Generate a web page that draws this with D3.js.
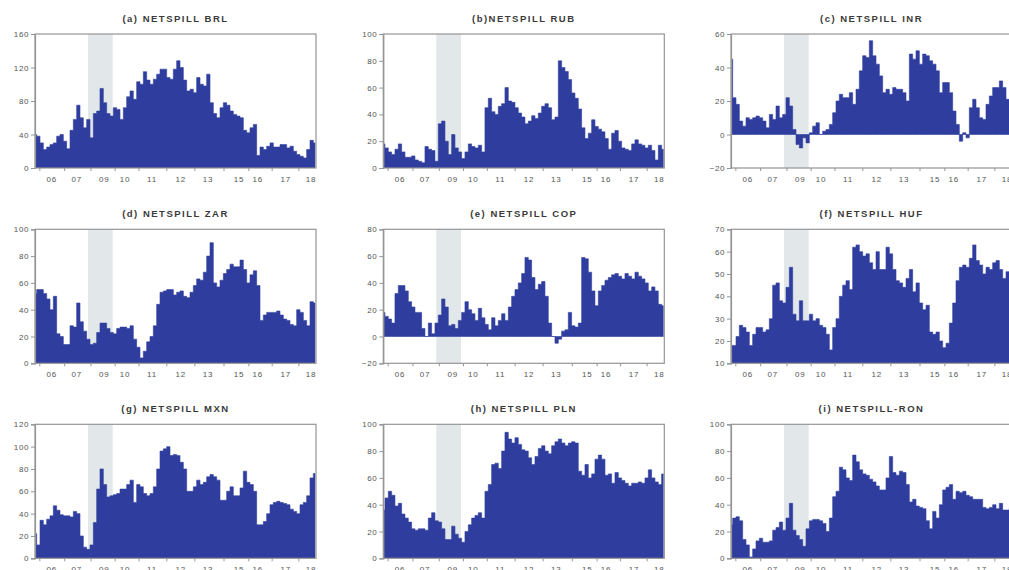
<!DOCTYPE html>
<html><head><meta charset="utf-8">
<script src="https://cdn.jsdelivr.net/npm/d3@7"></script>
<style>
body{margin:0;background:#fff;}
svg{display:block;}
text{font-family:"Liberation Sans",Arial,sans-serif;}
</style></head>
<body>
<svg id="chart" width="1009" height="570"></svg>
<script>
// x-axis tick labels (year, 2-digit) and their positions in sample index units
const yearLabels = ["06","07","09","10","11","12","13","15","16","17","18"];
const yearPos = [5.0, 12.5, 20.8, 27.0, 35.1, 43.7, 51.9, 61.2, 66.8, 75.2, 82.8];
const crisisSpan = [15.9, 23.3];

const titles = ["(a) NETSPILL BRL","(b)NETSPILL RUB","(c) NETSPILL INR",
                "(d) NETSPILL ZAR","(e) NETSPILL COP","(f) NETSPILL HUF",
                "(g) NETSPILL MXN","(h) NETSPILL PLN","(i) NETSPILL-RON"];
const yDomains = [[0,160],[0,100],[-20,60],[0,100],[-20,80],[10,70],[0,120],[0,100],[0,100]];
const yTicks = [[0,40,80,120,160],[0,20,40,60,80,100],[-20,0,20,40,60],[0,20,40,60,80,100],
                [-20,0,20,40,60,80],[10,20,30,40,50,60,70],[0,20,40,60,80,100,120],
                [0,20,40,60,80,100],[0,20,40,60,80,100]];

const brl = [40,38,30,22,25,28,30,38,40,32,23,45,58,75,60,48,58,36,65,68,95,78,65,62,72,70,58,72,85,92,82,103,100,115,105,100,106,112,118,118,108,106,118,128,120,105,92,94,90,108,100,98,112,78,65,60,72,78,75,68,64,62,60,45,42,48,52,15,25,22,26,30,25,25,28,28,24,26,20,16,14,12,22,33,30];
const rub = [18,15,12,10,14,18,12,8,8,9,6,5,4,16,14,13,5,33,35,20,10,25,15,12,7,12,18,16,15,17,12,45,52,42,40,46,48,60,50,49,45,41,38,33,35,39,37,41,46,48,45,36,38,80,75,72,66,56,52,44,30,22,26,36,31,29,27,22,14,26,28,20,15,14,13,18,21,18,17,15,17,13,6,17,14];
const inr = [45,22,18,8,5,10,9,10,11,10,8,4,12,9,17,10,12,22,17,3,-6,-8,-2,-5,1,5,7,0,2,3,6,13,20,24,22,22,25,18,27,38,47,46,56,47,42,35,25,27,24,28,27,27,25,20,48,45,50,42,48,47,44,42,38,25,31,31,25,14,6,-4,1,-2,16,21,16,10,9,18,23,28,28,32,28,21,20];
const zar = [52,55,55,52,48,40,50,22,20,14,14,28,27,45,31,24,18,14,15,23,30,30,26,23,22,26,27,27,26,28,18,12,4,9,16,20,28,44,53,54,55,55,51,53,54,50,49,53,58,63,62,68,80,90,60,57,62,67,70,74,72,72,77,70,60,66,69,58,32,36,38,38,38,39,36,33,32,29,28,40,38,32,28,46,45];
const cop = [18,15,13,10,32,38,38,34,26,22,18,18,6,0,10,2,10,16,28,22,8,9,6,12,18,26,20,17,12,21,14,9,5,14,8,12,17,12,22,30,35,40,47,59,57,44,35,39,41,30,10,0,-5,-2,4,5,18,8,7,10,59,58,48,34,23,34,38,42,44,46,47,45,43,47,45,43,48,45,43,40,34,37,34,24,23];
const huf = [18,18,22,27,26,24,18,23,26,26,24,25,30,45,46,38,37,44,53,32,29,38,29,29,32,29,30,27,26,23,16,26,30,40,45,47,43,62,63,60,58,59,55,52,60,52,52,62,59,52,47,46,44,48,52,42,46,37,34,36,24,23,24,20,17,19,28,37,47,53,54,53,57,63,56,54,50,53,52,55,56,52,48,51,50];
const mxn = [22,12,34,30,35,38,47,43,39,38,38,37,42,40,20,10,8,12,32,62,80,66,55,56,57,58,62,62,66,70,50,66,64,58,56,58,64,80,96,98,100,92,93,92,86,80,60,60,64,70,66,68,73,75,73,70,52,52,60,64,56,56,63,78,68,66,60,30,30,33,40,48,50,51,50,49,48,44,42,40,48,50,56,72,76];
const pln = [36,45,50,47,39,41,33,30,27,22,21,22,22,21,30,34,28,27,22,14,14,24,18,15,12,20,25,30,32,34,30,50,55,70,71,67,80,94,89,86,90,85,81,80,75,70,76,82,84,80,78,84,87,89,86,84,86,87,86,65,62,70,60,63,74,77,74,62,63,56,64,60,58,56,54,56,56,57,56,60,66,60,57,55,63];
const ron = [25,30,31,28,14,10,1,7,13,15,12,12,13,21,23,27,21,30,41,21,17,14,9,22,28,29,29,28,26,20,30,46,50,68,66,60,58,77,72,66,63,62,59,57,54,51,51,60,76,64,62,65,64,55,42,44,39,38,37,28,22,35,30,40,51,53,55,44,50,49,50,47,46,44,44,44,38,37,38,40,37,41,36,36,38];

const series = [brl, rub, inr, zar, cop, huf, mxn, pln, ron];

const colLeft = [35, 383.3, 731];
const rowTop = [34, 229.3, 424.3];
const plotW = 281, plotH = 134;
const fillColor = "#2f3e9e";
const shadeColor = "#e2e7ea";
const frameColor = "#959595";
const textColor = "#555";

const svg = d3.select("#chart");
const defs = svg.append("defs");

series.forEach((vals, idx) => {
  const col = idx % 3, row = Math.floor(idx / 3);
  const g = svg.append("g").attr("transform", `translate(${colLeft[col]},${rowTop[row]})`);
  const x = d3.scaleLinear().domain([0, 84.3]).range([0, plotW]);
  const y = d3.scaleLinear().domain(yDomains[idx]).range([plotH, 0]);
  const base = Math.max(0, yDomains[idx][0]);

  const cid = "clip" + idx;
  defs.append("clipPath").attr("id", cid).append("rect")
    .attr("x", 0).attr("y", 0).attr("width", plotW).attr("height", plotH);

  // crisis shading
  g.append("rect")
    .attr("x", x(crisisSpan[0])).attr("y", 0)
    .attr("width", x(crisisSpan[1]) - x(crisisSpan[0])).attr("height", plotH)
    .attr("fill", shadeColor);

  const area = d3.area()
    .x((d, i) => x(i))
    .y0(y(base))
    .y1(d => y(d))
    .curve(d3.curveStep);

  g.append("path")
    .datum(vals)
    .attr("clip-path", `url(#${cid})`)
    .attr("d", area)
    .attr("fill", fillColor)
    .attr("stroke", fillColor)
    .attr("stroke-width", 0.6);

  // frame
  g.append("rect")
    .attr("x", 0).attr("y", 0).attr("width", plotW).attr("height", plotH)
    .attr("fill", "none").attr("stroke", frameColor).attr("stroke-width", 1.2);

  // y axis
  const yAxis = d3.axisLeft(y).tickValues(yTicks[idx]).tickSize(4).tickPadding(2);
  const ya = g.append("g").call(yAxis);
  ya.select(".domain").attr("stroke", frameColor).attr("stroke-width", 1.2);
  ya.selectAll(".tick line").attr("stroke", frameColor);
  ya.selectAll("text").attr("fill", textColor).attr("font-size", 8)
    .attr("letter-spacing", 0.6).style("font-family", "'Liberation Sans', Arial, sans-serif");

  // x axis: labels at year positions, minor ticks between
  const xg = g.append("g").attr("transform", `translate(0,${plotH})`);
  const tickMarks = [];
  for (let i = 0; i < yearPos.length - 1; i++) tickMarks.push((yearPos[i] + yearPos[i+1]) / 2);
  tickMarks.unshift(yearPos[0] - 3.7);
  const xAxisTicks = d3.axisBottom(x).tickValues(tickMarks).tickSize(3).tickFormat("");
  xg.call(xAxisTicks);
  xg.select(".domain").remove();
  xg.selectAll(".tick line").attr("stroke", frameColor);
  xg.selectAll(".lbl").data(yearLabels).enter().append("text")
    .attr("class", "lbl")
    .attr("x", (d, i) => x(yearPos[i]))
    .attr("y", 13.5)
    .attr("text-anchor", "middle")
    .attr("fill", textColor)
    .attr("font-size", 8)
    .attr("letter-spacing", 0.8)
    .text(d => d);

  // title
  g.append("text")
    .attr("x", plotW / 2)
    .attr("y", -12)
    .attr("text-anchor", "middle")
    .attr("font-size", 9.5)
    .attr("font-weight", "bold")
    .attr("letter-spacing", 1.5)
    .attr("fill", "#3a3a3a")
    .text(titles[idx]);
});
</script>
</body></html>
